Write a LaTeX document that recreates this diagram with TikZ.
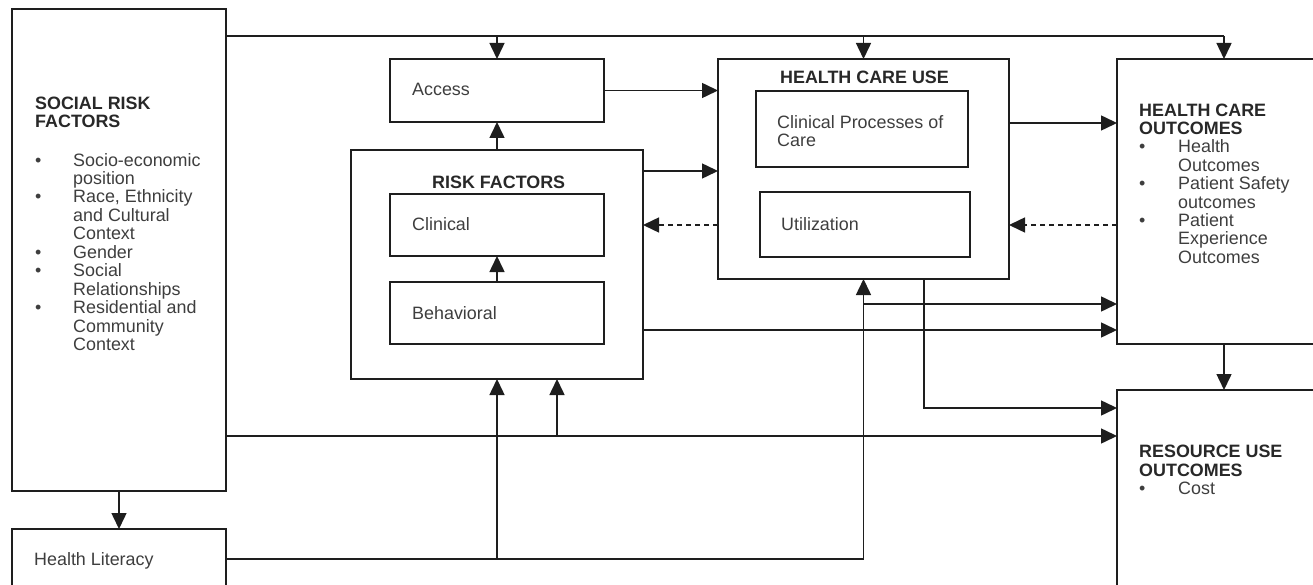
\documentclass[tikz,border=0pt]{standalone}
\usepackage{fontspec}
\setmainfont{Liberation Sans}
\usetikzlibrary{arrows.meta}
\definecolor{ink}{RGB}{30,30,30}
\definecolor{bodytxt}{RGB}{62,62,62}
\definecolor{ttltxt}{RGB}{40,40,40}
\newcommand{\dfont}{\fontsize{17.9}{18.3}\selectfont}
\begin{document}
\begin{tikzpicture}[x=1pt,y=-1pt,
  box/.style={draw=ink, line width=2.6pt, inner sep=0pt, outer sep=0pt, anchor=north west},
  lbl/.style={inner sep=0pt, anchor=base west, text=bodytxt, font=\dfont},
  tlbl/.style={inner sep=0pt, anchor=base, text=ttltxt, font=\dfont\bfseries},
  blk/.style={inner sep=0pt, anchor=north west, text=bodytxt, font=\dfont},
  conn/.style={draw=ink, line width=1.5pt},
  arr/.style={conn, -{Triangle[length=16pt,width=15pt]}},
  darr/.style={arr, dash pattern=on 5pt off 4pt}]
\useasboundingbox (0,0) rectangle (1313,585);
\clip (0,0) rectangle (1313,585);

% boxes
\node[box, minimum width=214pt, minimum height=482pt] (srf) at (12,9) {};
\node[box, minimum width=214pt, minimum height=60pt] (hl) at (12,529) {};
\node[box, minimum width=214pt, minimum height=63pt] (acc) at (390,59) {};
\node[box, minimum width=292pt, minimum height=229pt] (rf) at (351,150) {};
\node[box, minimum width=214pt, minimum height=62pt] (cli) at (390,194) {};
\node[box, minimum width=214pt, minimum height=62pt] (beh) at (390,282) {};
\node[box, minimum width=291pt, minimum height=220pt] (hcu) at (718,59) {};
\node[box, minimum width=212pt, minimum height=76pt] (cpc) at (756,91) {};
\node[box, minimum width=210pt, minimum height=65pt] (uti) at (760,192) {};
\node[box, minimum width=214pt, minimum height=285pt] (hco) at (1117,59) {};
\node[box, minimum width=214pt, minimum height=220pt] (ruo) at (1117,390) {};

% texts
\node[blk, text=ttltxt, font=\dfont\bfseries] (srft) at (35,96.2)
  {\begin{tabular}{@{}l@{}}SOCIAL RISK\\FACTORS\end{tabular}};
\node[blk] (srfl) at (35,152.9)
  {\begin{tabular}{@{}p{38pt}@{}l@{}}
   \textbullet & Socio-economic\\ & position\\
   \textbullet & Race, Ethnicity\\ & and Cultural\\ & Context\\
   \textbullet & Gender\\
   \textbullet & Social\\ & Relationships\\
   \textbullet & Residential and\\ & Community\\ & Context
   \end{tabular}};
\node[lbl] (hlt) at (34,565) {Health Literacy};
\node[lbl] (acct) at (412,95.7) {Access};
\node[tlbl] (rft) at (498.7,188.3) {RISK FACTORS};
\node[lbl] (clit) at (412,230.7) {Clinical};
\node[lbl] (beht) at (412,319) {Behavioral};
\node[tlbl] (hcut) at (864.5,83.3) {HEALTH CARE USE};
\node[blk] (cpct) at (777,114.9)
  {\begin{tabular}{@{}l@{}}Clinical Processes of\\Care\end{tabular}};
\node[lbl] (utit) at (781,230.7) {Utilization};
\node[blk] (hcot) at (1139,103.2)
  {\begin{tabular}{@{}p{39pt}@{}l@{}}
   \multicolumn{2}{@{}l@{}}{\color{ttltxt}\bfseries HEALTH CARE}\\
   \multicolumn{2}{@{}l@{}}{\color{ttltxt}\bfseries OUTCOMES}\\
   \textbullet & Health\\ & Outcomes\\
   \textbullet & Patient Safety\\ & outcomes\\
   \textbullet & Patient\\ & Experience\\ & Outcomes
   \end{tabular}};
\node[blk] (ruot) at (1139,444.9)
  {\begin{tabular}{@{}p{39pt}@{}l@{}}
   \multicolumn{2}{@{}l@{}}{\color{ttltxt}\bfseries RESOURCE USE}\\
   \multicolumn{2}{@{}l@{}}{\color{ttltxt}\bfseries OUTCOMES}\\
   \textbullet & Cost
   \end{tabular}};

% junction coordinates
\coordinate (jtop) at (226,36);
\coordinate (jsrf) at (557,436);
\coordinate (jhl) at (863.5,304);

% connectors
\draw[conn] (srf.east |- jtop) -- (hco.north |- jtop);
\draw[arr] (hco.north |- jtop) -- (hco.north);
\draw[arr] (acc.north |- jtop) -- (acc.north);
\draw[arr] (hcu.north |- jtop) -- (hcu.north);
\draw[arr] (srf.south) -- (hl.north);
\draw[arr] (acc.east) -- (acc.east -| hcu.west);
\draw[arr] (rf.north) -- (acc.south);
\draw[arr] (beh.north) -- (cli.south);
\draw[arr] (rf.east |- 0,171) -- (hcu.west |- 0,171);
\draw[darr] (hcu.west |- 0,225) -- (rf.east |- 0,225);
\draw[arr] (hcu.east |- 0,123) -- (hco.west |- 0,123);
\draw[darr] (hco.west |- 0,225) -- (hcu.east |- 0,225);
\draw[arr] (rf.east |- 0,330) -- (hco.west |- 0,330);
\draw[arr] (hl.east) -| (hcu.south);
\draw[arr] (rf.south |- hl.east) -- (rf.south);
\draw[arr] (jhl) -- (hco.west |- jhl);
\draw[arr] (srf.east |- jsrf) -- (ruo.west |- jsrf);
\draw[arr] (jsrf) -- (rf.south -| jsrf);
\draw[arr] (hcu.south -| 924,0) |- (ruo.west |- 0,408);
\draw[arr] (hco.south) -- (ruo.north);
\end{tikzpicture}
\end{document}
